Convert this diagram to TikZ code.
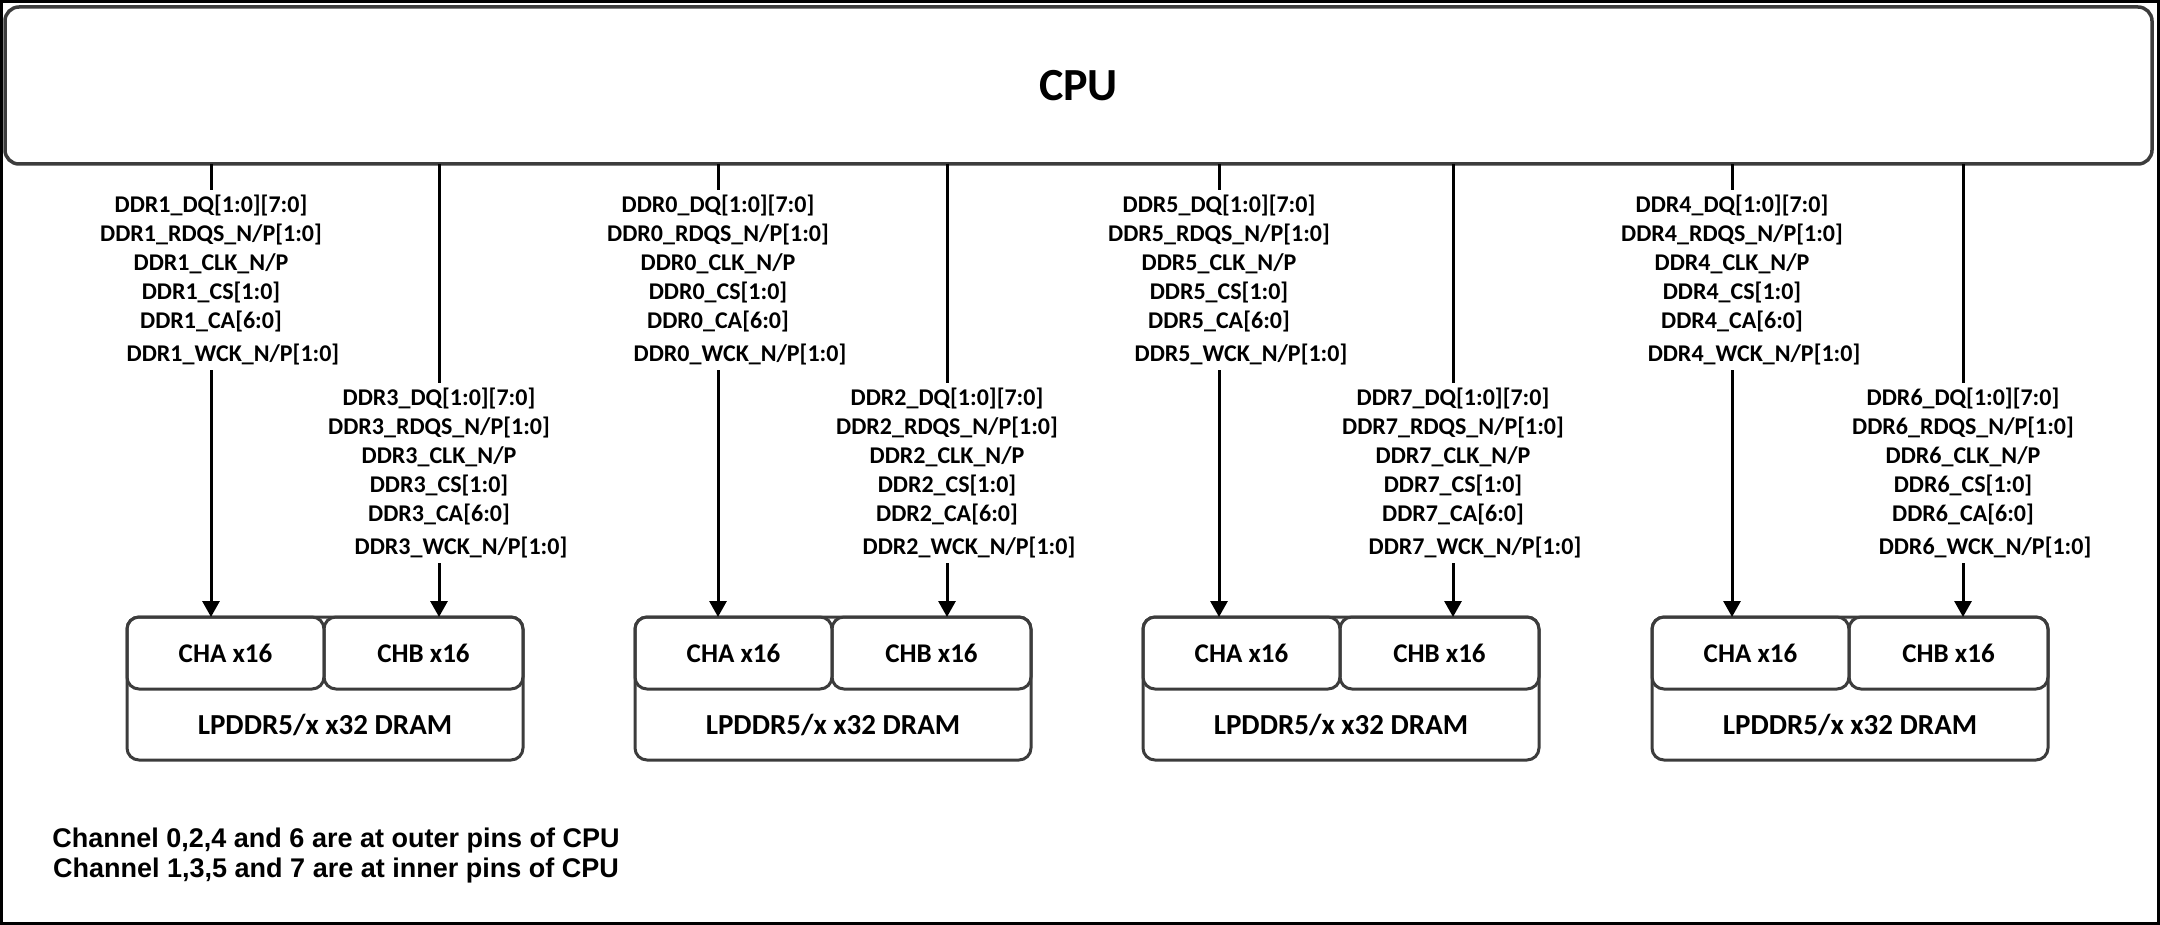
\documentclass[tikz,border=0pt]{standalone}
\usepackage{fontspec}
\setmainfont{Carlito}
\newfontfamily\arialf{Liberation Sans}
\usetikzlibrary{arrows.meta}
\definecolor{boxgray}{HTML}{3C3C3C}
\begin{document}
\begin{tikzpicture}[x=1pt,y=-1pt,
  every node/.style={outer sep=0pt},
  box/.style={draw=boxgray, line width=3.5pt, rounded corners=14pt, inner sep=0pt},
  chan/.style={draw=boxgray, line width=3pt, rounded corners=12pt, minimum height=72pt, inner sep=0pt,
    font=\bfseries\fontsize{27}{32}\selectfont},
  dram/.style={draw=boxgray, line width=3pt, rounded corners=12pt, inner sep=0pt},
  lbl/.style={align=center, inner xsep=0pt, inner ysep=5pt, anchor=north,
    font=\bfseries\fontsize{24}{29}\selectfont},
  conn/.style={draw=black, line width=3pt},
  arr/.style={draw=black, line width=3pt, -{Triangle[width=17pt,length=16pt]}}
]
\useasboundingbox (0,0) rectangle (2160,925);
\draw[line width=3pt] (1.5,1.5) rectangle (2158.5,923.5);

\node[box, minimum width=2147pt, minimum height=157pt,
  font=\bfseries\fontsize{46}{50}\selectfont] (cpu) at (1078.5,85.5) {CPU};

\foreach \n/\x/\y in {1/211/190, 3/439/383, 0/718/190, 2/947/383, 5/1219/190, 7/1453/383, 4/1732/190, 6/1963/383}{
  \node[lbl] (l\n) at (\x,\y) {DDR\n\_DQ[1:0][7:0]\\DDR\n\_RDQS\_N/P[1:0]\\DDR\n\_CLK\_N/P\\DDR\n\_CS[1:0]\\DDR\n\_CA[6:0]\\[4pt]\hspace*{44pt}DDR\n\_WCK\_N/P[1:0]};
  \draw[conn] (cpu.south -| l\n.north) -- (l\n.north);
}

\foreach \k/\lx/\a/\b in {1/127/1/3, 2/635/0/2, 3/1143/5/7, 4/1652/4/6}{
  \node[dram, minimum width=396pt, minimum height=143pt, anchor=north west] (d\k) at (\lx,617) {};
  \node[chan, minimum width=197pt, anchor=north west] (ca\k) at (\lx,617) {CHA x16};
  \node[chan, minimum width=199pt, anchor=north east] (cb\k) at (\lx+396,617) {CHB x16};
  \node[font=\bfseries\fontsize{29}{34}\selectfont] (t\k) at (\lx+198,724.5) {LPDDR5/x x32 DRAM};
  \draw[arr] (l\a.south) -- (l\a.south |- d\k.north);
  \draw[arr] (l\b.south) -- (l\b.south |- d\k.north);
}

\node[align=center, font=\arialf\bfseries\fontsize{27}{30}\selectfont] (note) at (336,856)
  {Channel 0,2,4 and 6 are at outer pins of CPU\\Channel 1,3,5 and 7 are at inner pins of CPU};
\end{tikzpicture}
\end{document}
